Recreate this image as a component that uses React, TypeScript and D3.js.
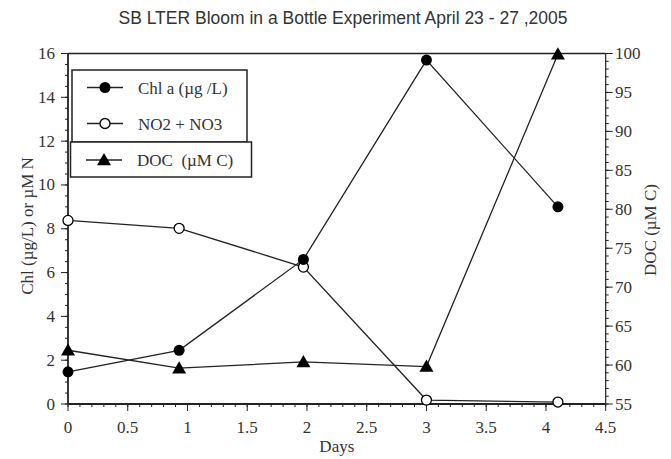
import React from "react";
import * as d3 from "d3";

const days = [0, 0.93, 1.97, 3.0, 4.1];
const chl = [1.47, 2.45, 6.6, 15.7, 9.0];
const no3 = [8.38, 8.02, 6.25, 0.18, 0.09];
const doc = [61.9, 59.6, 60.4, 59.8, 99.9];

const xTicks = [0, 0.5, 1, 1.5, 2, 2.5, 3, 3.5, 4, 4.5];
const leftTicks = [0, 2, 4, 6, 8, 10, 12, 14, 16];
const rightTicks = [55, 60, 65, 70, 75, 80, 85, 90, 95, 100];

const title = "SB LTER Bloom in a Bottle Experiment April 23 - 27 ,2005";
const xTitle = "Days";
const leftTitle = "Chl (µg/L) or µM N";
const rightTitle = "DOC (µM C)";
const legendLabels = ["Chl a (µg /L)", "NO2 + NO3", "DOC  (µM C)"];

const W = 671, H = 459;
const L = 68, R = 605.7, T = 53.5, B = 404;

export default function App() {
  const x = d3.scaleLinear().domain([0, 4.5]).range([L, R]);
  const yL = d3.scaleLinear().domain([0, 16]).range([B, T]);
  const yR = d3.scaleLinear().domain([55, 100]).range([B, T]);
  const line = d3.line<[number, number]>().x(d => d[0]).y(d => d[1]);

  const chlPts: [number, number][] = days.map((d, i) => [x(d), yL(chl[i])]);
  const no3Pts: [number, number][] = days.map((d, i) => [x(d), yL(no3[i])]);
  const docPts: [number, number][] = days.map((d, i) => [x(d), yR(doc[i])]);

  const xMinor = d3.range(0, 4.5001, 0.1);
  const lMinor = d3.range(0, 16.001, 0.5);
  const rMinor = d3.range(55, 100.001, 1);

  const serif = "'Liberation Serif', 'Times New Roman', serif";
  const col = "#222";
  const fs = 17;
  const tri = (cx: number, cy: number, s = 7) =>
    `M${cx},${cy - s}L${cx + s * 1.0},${cy + s * 0.75}L${cx - s * 1.0},${cy + s * 0.75}Z`;

  return (
    <svg width={W} height={H} style={{ position: "absolute", left: 0, top: 0, background: "#fff" }}>
      <rect x={0} y={0} width={W} height={H} fill="#fff" />
      <text x={343} y={24} textAnchor="middle" fontFamily="'Liberation Sans', Arial, sans-serif" fontSize={17.5} fill="#333">{title}</text>

      {/* frame */}
      <line x1={L} x2={R} y1={T} y2={T} stroke={col} strokeWidth={1.5} />
      <line x1={R} x2={R} y1={T} y2={B} stroke={col} strokeWidth={1.2} />
      <line x1={L} x2={R} y1={B} y2={B} stroke={col} strokeWidth={1.8} />
      <line x1={L} x2={L} y1={T} y2={B} stroke={col} strokeWidth={1.8} />

      {/* x ticks */}
      {xMinor.map((t, i) => (
        <line key={"xm" + i} x1={x(t)} x2={x(t)} y1={B} y2={B + 3} stroke={col} strokeWidth={1} />
      ))}
      {xTicks.map(t => (
        <g key={"xt" + t}>
          <line x1={x(t)} x2={x(t)} y1={B} y2={B + 7} stroke={col} strokeWidth={1} />
          <text x={x(t)} y={433} textAnchor="middle" fontFamily={serif} fontSize={fs} fill="#333">{t}</text>
        </g>
      ))}
      <text x={x(2.25)} y={452} textAnchor="middle" fontFamily={serif} fontSize={fs} fill="#333">{xTitle}</text>

      {/* left ticks */}
      {lMinor.map((t, i) => (
        <line key={"lm" + i} x1={L - 3} x2={L} y1={yL(t)} y2={yL(t)} stroke={col} strokeWidth={1} />
      ))}
      {leftTicks.map(t => (
        <g key={"lt" + t}>
          <line x1={L - 7} x2={L} y1={yL(t)} y2={yL(t)} stroke={col} strokeWidth={1} />
          <text x={55} y={yL(t) + 5.5} textAnchor="end" fontFamily={serif} fontSize={fs} fill="#333">{t}</text>
        </g>
      ))}
      <text transform={`translate(33,226) rotate(-90)`} textAnchor="middle" fontFamily={serif} fontSize={fs} fill="#333">{leftTitle}</text>

      {/* right ticks */}
      {rMinor.map((t, i) => (
        <line key={"rm" + i} x1={R} x2={R + 3} y1={yR(t)} y2={yR(t)} stroke={col} strokeWidth={1} />
      ))}
      {rightTicks.map(t => (
        <g key={"rt" + t}>
          <line x1={R} x2={R + 7} y1={yR(t)} y2={yR(t)} stroke={col} strokeWidth={1} />
          <text x={615} y={yR(t) + 5.5} textAnchor="start" fontFamily={serif} fontSize={fs} fill="#333">{t}</text>
        </g>
      ))}
      <text transform={`translate(656,230) rotate(-90)`} textAnchor="middle" fontFamily={serif} fontSize={fs} fill="#333">{rightTitle}</text>

      {/* series */}
      <path d={line(no3Pts) || ""} fill="none" stroke={col} strokeWidth={1.3} />
      <path d={line(docPts) || ""} fill="none" stroke={col} strokeWidth={1.3} />
      <path d={line(chlPts) || ""} fill="none" stroke={col} strokeWidth={1.3} />
      {no3Pts.map((p, i) => (
        <circle key={"n" + i} cx={p[0]} cy={p[1]} r={5} fill="#fff" stroke="#000" strokeWidth={1.3} />
      ))}
      {docPts.map((p, i) => (
        <path key={"d" + i} d={tri(p[0], p[1])} fill="#000" />
      ))}
      {chlPts.map((p, i) => (
        <circle key={"c" + i} cx={p[0]} cy={p[1]} r={5.5} fill="#000" />
      ))}

      {/* legend */}
      <rect x={72} y={70} width={175} height={72} fill="#fff" stroke={col} strokeWidth={1.5} />
      <rect x={70.5} y={142} width={181} height={35} fill="#fff" stroke={col} strokeWidth={1.5} />
      <line x1={87} x2={123} y1={87.5} y2={87.5} stroke={col} strokeWidth={1.3} />
      <circle cx={105} cy={87.5} r={5.5} fill="#000" />
      <text x={138} y={93.5} fontFamily={serif} fontSize={fs} fill="#333">{legendLabels[0]}</text>
      <line x1={87} x2={123} y1={123.5} y2={123.5} stroke={col} strokeWidth={1.3} />
      <circle cx={105} cy={123.5} r={5} fill="#fff" stroke="#000" strokeWidth={1.3} />
      <text x={138} y={129.5} fontFamily={serif} fontSize={fs} fill="#333">{legendLabels[1]}</text>
      <line x1={86} x2={122} y1={160} y2={160} stroke={col} strokeWidth={1.3} />
      <path d={tri(104, 160)} fill="#000" />
      <text x={137} y={166} fontFamily={serif} fontSize={fs} fill="#333" style={{ whiteSpace: "pre" }}>{legendLabels[2]}</text>
    </svg>
  );
}
